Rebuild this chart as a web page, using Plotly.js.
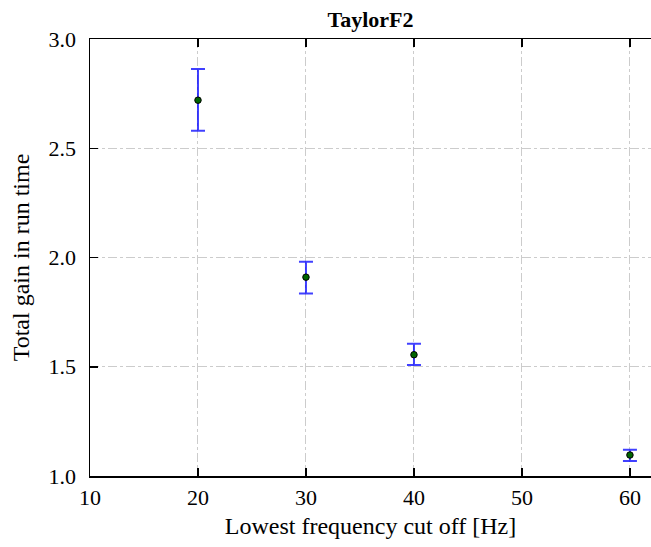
<!DOCTYPE html>
<html>
<head>
<meta charset="utf-8">
<script src="https://cdn.plot.ly/plotly-3.0.1.min.js"></script>
<style>html,body{margin:0;padding:0;background:#fff;}</style>
</head>
<body>
<div id="chart" style="width:651px;height:547px;"></div>
<script>
const cutoffHz = [20, 30, 40, 60];
const gain = [2.72, 1.91, 1.555, 1.096];
const errPlus = [0.143, 0.07, 0.05, 0.024];
const errMinus = [0.14, 0.075, 0.047, 0.027];

const font = 'Liberation Serif, Times New Roman, serif';

const trace = {
  x: cutoffHz,
  y: gain,
  type: 'scatter',
  mode: 'markers',
  marker: {size: 6.5, color: '#006400', line: {color: '#000', width: 1}},
  error_y: {
    type: 'data', symmetric: false,
    array: errPlus, arrayminus: errMinus,
    color: 'rgba(0,0,255,0.75)', thickness: 2, width: 7
  },
  showlegend: false,
  cliponaxis: false
};

const layout = {
  width: 651, height: 547,
  margin: {l: 90, r: 0, t: 39, b: 71},
  paper_bgcolor: '#fff', plot_bgcolor: '#fff',
  font: {family: font, size: 22, color: '#000'},
  title: {
    text: '<b>TaylorF2</b>',
    font: {family: font, size: 22, color: '#000'},
    xref: 'paper', x: 0.5, xanchor: 'center',
    yref: 'container', y: 1 - 19/547, yanchor: 'middle'
  },
  xaxis: {
    range: [10, 61.95],
    tickvals: [10, 20, 30, 40, 50, 60],
    ticktext: ['10', '20', '30', '40', '50', '60'],
    ticks: 'inside', ticklen: 8, tickwidth: 1.5, tickcolor: '#000',
    showline: true, linecolor: '#000', linewidth: 1.5, mirror: 'ticks',
    showgrid: true, gridcolor: '#cccccc', griddash: 'dashdot', gridwidth: 1,
    zeroline: false,
    tickfont: {family: font, size: 22},
    ticklabelstandoff: 1,
    title: {text: 'Lowest frequency cut off [Hz]', font: {family: font, size: 24}, standoff: 8}
  },
  yaxis: {
    range: [1.0, 3.0],
    tickvals: [1.0, 1.5, 2.0, 2.5, 3.0],
    ticktext: ['1.0', '1.5', '2.0', '2.5', '3.0'],
    ticks: 'inside', ticklen: 8, tickwidth: 1.5, tickcolor: '#000',
    showline: true, linecolor: '#000', linewidth: 1.5, mirror: false,
    showgrid: true, gridcolor: '#cccccc', griddash: 'dashdot', gridwidth: 1,
    zeroline: false,
    tickfont: {family: font, size: 22},
    ticklabelstandoff: 8,
    title: {text: 'Total gain in run time', font: {family: font, size: 24}, standoff: 12}
  }
};

Plotly.newPlot('chart', [trace], layout, {displayModeBar: false, staticPlot: true});
</script>
</body>
</html>
